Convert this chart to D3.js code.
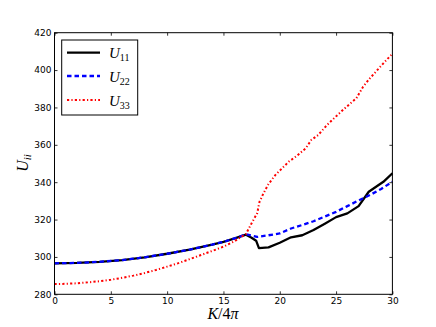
<!DOCTYPE html>
<html>
<head>
<meta charset="utf-8">
<script src="https://cdn.jsdelivr.net/npm/d3@7"></script>
<style>
  body { margin: 0; background: #fff; }
  svg { display: block; }
  .tick text { font-family: 'DejaVu Sans', sans-serif; font-size: 9px; fill: #000; }
  .math { font-family: 'Liberation Serif', 'DejaVu Serif', serif; }
</style>
</head>
<body>
<svg id="chart"></svg>
<script>
/* global d3 */
const xTicks = [0, 5, 10, 15, 20, 25, 30]
const yTicks = [280, 300, 320, 340, 360, 380, 400, 420]

const k11 = [0, 2, 4, 6, 8, 10, 12, 14, 15, 16, 17, 17.5, 17.9, 18.15, 19, 20, 21, 22, 23, 24, 25, 26, 27, 27.9, 29.2, 30]
const u11 = [296.6, 296.8, 297.4, 298.3, 299.8, 301.7, 303.9, 306.6, 308.1, 309.9, 311.9, 310.3, 308.7, 304.7, 305.1, 307.6, 310.5, 311.6, 314.4, 317.8, 321.3, 323.3, 327.2, 334.9, 340.2, 344.8]

const k22 = [0, 2, 4, 6, 8, 10, 12, 14, 15, 16, 17, 18, 19, 20, 21, 22, 23, 24, 25, 26, 27, 28, 29, 30]
const u22 = [296.6, 296.8, 297.4, 298.3, 299.8, 301.7, 303.9, 306.6, 308.1, 309.9, 312.1, 310.7, 311.6, 312.6, 315.2, 317.1, 319.1, 321.6, 324.1, 327.2, 330.2, 333.1, 336.4, 340.2]

const k33 = [0, 1, 2, 3, 4, 5, 6, 7, 8, 9, 10, 11, 12, 13, 14, 15, 16, 17, 17.5, 18, 18.2, 18.55, 19, 19.6, 20.2, 20.8, 21.5, 22.3, 22.8, 23.4, 24.2, 24.9, 25.6, 26.2, 26.8, 27.4, 28, 29.2, 30]
const u33 = [285.5, 285.6, 285.9, 286.4, 287.0, 287.8, 288.8, 290.0, 291.4, 293.0, 294.8, 296.7, 298.8, 301.0, 303.2, 305.5, 308.5, 312.3, 318.0, 323.5, 329.5, 334.0, 339.0, 343.8, 347.4, 351.0, 354.0, 358.1, 362.6, 365.2, 370.6, 374.7, 378.6, 381.8, 384.9, 391.1, 395.6, 403.6, 408.8]

const series = [
  { name: '11', k: k11, u: u11, color: '#000', dash: null, width: 2.3 },
  { name: '22', k: k22, u: u22, color: '#0000ff', dash: '4.5,3', width: 2.3 },
  { name: '33', k: k33, u: u33, color: '#ff0000', dash: '2.2,2.2,1.2,2.2', width: 2 }
]

const width = 436
const height = 327
const margin = { top: 32.7, bottom: 32.7, left: 54.5, right: 43.6 }

const svg = d3.select('#chart')
  .attr('width', width)
  .attr('height', height)

svg.append('rect')
  .attr('width', width)
  .attr('height', height)
  .attr('fill', '#fff')

const xScale = d3.scaleLinear()
  .domain([0, 30])
  .range([margin.left, width - margin.right])

const yScale = d3.scaleLinear()
  .domain([280, 420])
  .range([height - margin.bottom, margin.top])

// curves
const line = d3.line()
  .x(d => xScale(d[0]))
  .y(d => yScale(d[1]))

series.forEach(s => {
  svg.append('path')
    .attr('d', line(s.k.map((k, i) => [k, s.u[i]])))
    .attr('fill', 'none')
    .attr('stroke', s.color)
    .attr('stroke-width', s.width)
    .attr('stroke-dasharray', s.dash)
    .attr('stroke-linejoin', 'round')
})

// axes, ticks pointing inward
const xAxis = d3.axisBottom(xScale).tickValues(xTicks).tickSizeInner(-3).tickSizeOuter(0).tickPadding(3)
const yAxis = d3.axisLeft(yScale).tickValues(yTicks).tickSizeInner(-3).tickSizeOuter(0).tickPadding(3)
const xTop = d3.axisTop(xScale).tickValues(xTicks).tickSizeInner(-3).tickSizeOuter(0).tickFormat('')
const yRight = d3.axisRight(yScale).tickValues(yTicks).tickSizeInner(-3).tickSizeOuter(0).tickFormat('')

svg.append('g').attr('transform', `translate(0,${height - margin.bottom})`).call(xAxis)
svg.append('g').attr('transform', `translate(${margin.left},0)`).call(yAxis)
svg.append('g').attr('transform', `translate(0,${margin.top})`).call(xTop)
svg.append('g').attr('transform', `translate(${width - margin.right},0)`).call(yRight)
svg.selectAll('.domain').remove()
svg.selectAll('.tick line').attr('stroke', '#000').attr('stroke-width', 0.8)

svg.append('rect')
  .attr('x', margin.left)
  .attr('y', margin.top)
  .attr('width', width - margin.left - margin.right)
  .attr('height', height - margin.top - margin.bottom)
  .attr('fill', 'none')
  .attr('stroke', '#000')
  .attr('stroke-width', 1)

// axis labels
const xl = svg.append('text')
  .attr('class', 'math')
  .attr('x', 223)
  .attr('y', 319)
  .attr('text-anchor', 'middle')
  .attr('font-size', 16)
xl.append('tspan').attr('font-style', 'italic').text('K')
xl.append('tspan').text('/4')
xl.append('tspan').attr('font-style', 'italic').text('π')

const yl = svg.append('text')
  .attr('class', 'math')
  .attr('transform', 'translate(28,163) rotate(-90)')
  .attr('text-anchor', 'middle')
  .attr('font-size', 16)
yl.append('tspan').attr('font-style', 'italic').text('U')
yl.append('tspan').attr('font-style', 'italic').attr('font-size', 11).attr('dy', 3).text('ii')

// legend
const legend = svg.append('g')
legend.append('rect')
  .attr('x', 61.7)
  .attr('y', 40)
  .attr('width', 76)
  .attr('height', 75)
  .attr('fill', '#fff')
  .attr('stroke', '#000')
  .attr('stroke-width', 1)

const legendY = [52.7, 76, 100]
series.forEach((s, i) => {
  legend.append('line')
    .attr('x1', 67).attr('x2', 100)
    .attr('y1', legendY[i]).attr('y2', legendY[i])
    .attr('stroke', s.color)
    .attr('stroke-width', s.width)
    .attr('stroke-dasharray', s.dash)
  const t = legend.append('text')
    .attr('class', 'math')
    .attr('x', 109)
    .attr('y', legendY[i] + 5.5)
    .attr('font-size', 15)
  t.append('tspan').attr('font-style', 'italic').text('U')
  t.append('tspan').attr('font-size', 10).attr('dy', 3).text(s.name)
})
</script>
</body>
</html>
